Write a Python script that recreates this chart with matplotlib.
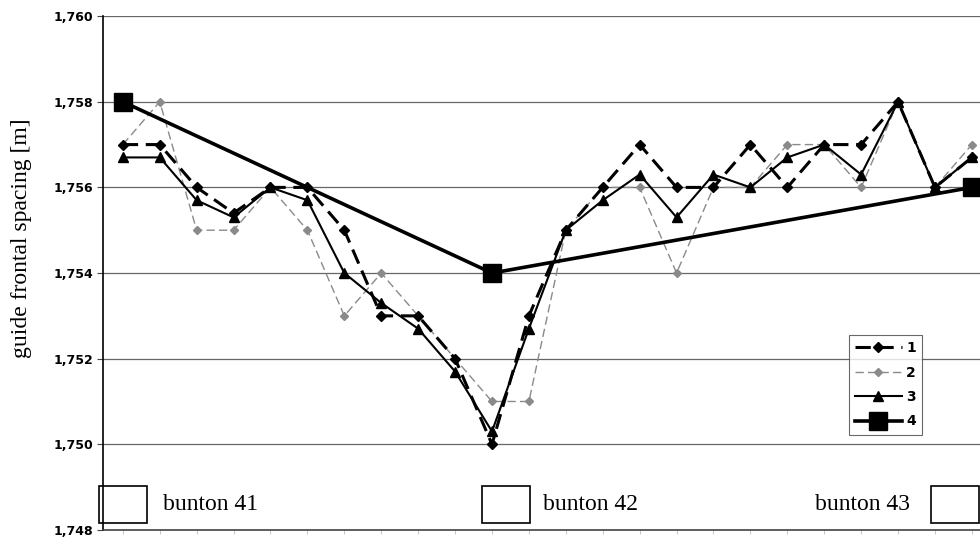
import numpy as np
import matplotlib
matplotlib.use("Agg")
from matplotlib import pyplot as plt
from matplotlib.patches import Rectangle
from matplotlib.ticker import FuncFormatter

# measurement points along the shaft (index of the measuring level)
levels = np.arange(24)

# series 1..3 [m]
s1 = [1.757, 1.757, 1.756, 1.7554, 1.756, 1.756, 1.755, 1.753, 1.753, 1.752, 1.750, 1.753,
      1.755, 1.756, 1.757, 1.756, 1.756, 1.757, 1.756, 1.757, 1.757, 1.758, 1.756, 1.7567]
s2 = [1.757, 1.758, 1.755, 1.755, 1.756, 1.755, 1.753, 1.754, 1.753, 1.752, 1.751, 1.751,
      1.755, 1.756, 1.756, 1.754, 1.756, 1.756, 1.757, 1.757, 1.756, 1.758, 1.756, 1.757]
s3 = [1.7567, 1.7567, 1.7557, 1.7553, 1.756, 1.7557, 1.754, 1.7533, 1.7527, 1.7517, 1.7503, 1.7527,
      1.755, 1.7557, 1.7563, 1.7553, 1.7563, 1.756, 1.7567, 1.757, 1.7563, 1.758, 1.756, 1.7567]

# series 4 only at the buntons
bunton_levels = [0, 10, 23]
s4 = [1.758, 1.754, 1.756]

bunton_names = ["bunton 41", "bunton 42", "bunton 43"]
yticks = [1.748, 1.750, 1.752, 1.754, 1.756, 1.758, 1.760]

fig = plt.figure(figsize=(9.8, 5.38), dpi=100)
ax = fig.add_axes([0.105, 0.015, 0.895, 0.955])

ax.plot(levels, s1, color="black", lw=2.2, ls=(0, (5, 2.5)), marker="D", ms=5, label="1", zorder=4)
ax.plot(levels, s2, color="#8a8a8a", lw=1.0, ls=(0, (6, 3)), marker="D", ms=4.5, label="2", zorder=3)
ax.plot(levels, s3, color="black", lw=1.5, marker="^", ms=6.5, label="3", zorder=5)
ax.plot(bunton_levels, s4, color="black", lw=2.6, marker="s", ms=13, label="4", zorder=6, clip_on=False)

ax.set_xlim(-0.54, 23.22)
ax.set_ylim(1.748, 1.760)
ax.set_yticks(yticks)
ax.yaxis.set_major_formatter(FuncFormatter(lambda v, p: ("%.3f" % v).replace(".", ",")))
for lab in ax.get_yticklabels():
    lab.set_fontweight("bold")
    lab.set_fontfamily("DejaVu Sans")
    lab.set_fontsize(9)
ax.tick_params(axis="y", length=4, width=0.8, color="#444444", pad=3)
ax.set_xticks(levels)
ax.set_xticklabels([])
ax.tick_params(axis="x", length=3, width=0.6, color="#bbbbbb")

ax.grid(axis="y", color="#666666", lw=0.9)
for sp in ["top", "right"]:
    ax.spines[sp].set_visible(False)
ax.spines["left"].set_linewidth(1.2)
ax.spines["bottom"].set_color("#444444")
ax.spines["bottom"].set_linestyle((0, (6, 1)))
ax.spines["bottom"].set_linewidth(1.2)

ax.set_ylabel("guide frontal spacing [m]", family="Liberation Serif", fontsize=17)
ax.yaxis.set_label_coords(-0.081, 0.568)

# bunton markers along the bottom
box_w, box_y0, box_h = 1.3, 1.74816, 0.00086
box_x = [-0.65, 9.73, 21.9]
text_x = [1.08, 11.38, 21.33]
for bx, tx, name in zip(box_x, text_x, bunton_names):
    ax.add_patch(Rectangle((bx, box_y0), box_w, box_h, fill=False, ec="black", lw=1.2,
                           clip_on=False, zorder=7))
    ax.text(tx, box_y0 + box_h / 2, name, family="Liberation Serif", fontsize=17,
            va="center", ha="right" if tx < bx else "left")

leg = ax.legend(loc="lower right", bbox_to_anchor=(0.942, 0.172), frameon=True, fancybox=False,
                edgecolor="#444444", handlelength=3.4, handletextpad=0.3, labelspacing=0.75,
                borderpad=0.45, prop={"family": "DejaVu Sans", "weight": "bold", "size": 10})
leg.get_frame().set_linewidth(0.8)

fig.savefig("out.png", dpi=100)
